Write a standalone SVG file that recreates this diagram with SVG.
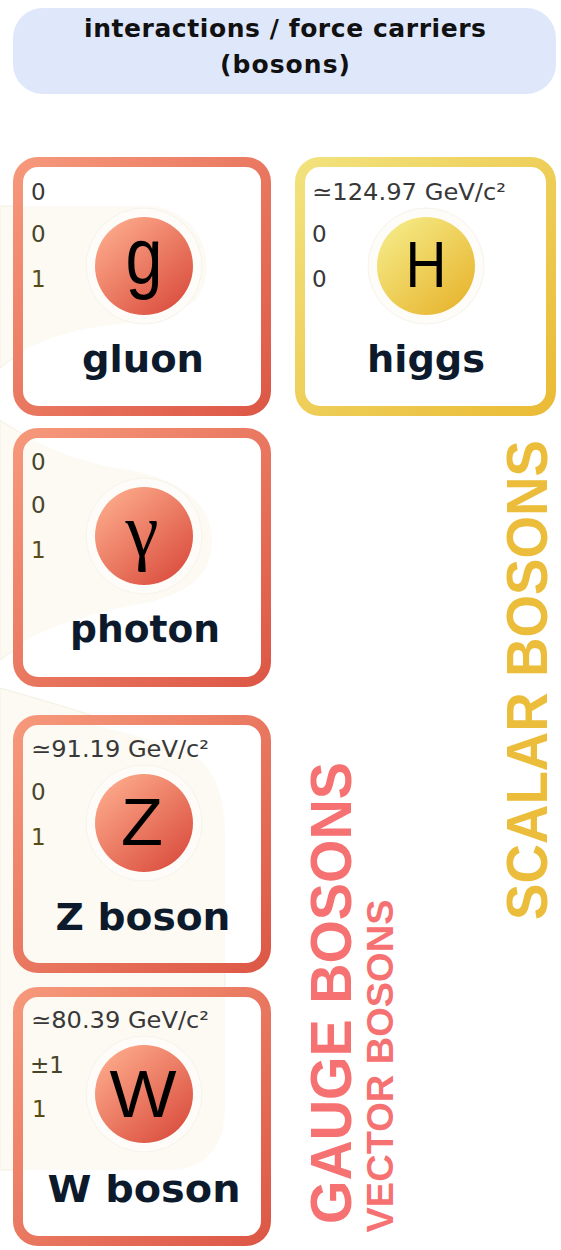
<svg xmlns="http://www.w3.org/2000/svg" width="561" height="1250" viewBox="0 0 561 1250">
<defs>
<linearGradient id="rs" x1="0" y1="0" x2="1" y2="1"><stop offset="0" stop-color="#f6987b"/><stop offset="1" stop-color="#dd5846"/></linearGradient>
<linearGradient id="rb" x1="0.15" y1="0.1" x2="0.85" y2="0.9"><stop offset="0" stop-color="#fba687"/><stop offset="1" stop-color="#dc5242"/></linearGradient>
<linearGradient id="ys" x1="0" y1="0" x2="1" y2="1"><stop offset="0" stop-color="#f2e27c"/><stop offset="1" stop-color="#eabb36"/></linearGradient>
<linearGradient id="yb" x1="0.15" y1="0.1" x2="0.85" y2="0.9"><stop offset="0" stop-color="#f4e882"/><stop offset="1" stop-color="#e8b733"/></linearGradient>
<style>
.card{fill:#fff}
.bdr{fill:none;stroke-width:10}
.red{stroke:url(#rs)}
.yel{stroke:url(#ys)}
.cream{fill:#fcfaf3;stroke:#f3efe3;stroke-width:1}
.halo{fill:#fdfcf8;stroke:#f6f3ea;stroke-width:1}
.num{font-family:"DejaVu Sans",sans-serif;font-size:23px}
.m{fill:#383838}
.q{fill:#48442a}
.s{fill:#5a4b15}
.sym{font-family:"Liberation Sans",Arial,sans-serif;fill:#000}
.name{font-family:"DejaVu Sans",sans-serif;font-weight:bold;font-size:38px;fill:#0c1a2c;text-anchor:middle}
.head{font-family:"DejaVu Sans",sans-serif;font-weight:bold;font-size:25px;fill:#111;text-anchor:middle}
.vl{font-family:"Liberation Sans",Arial,sans-serif;font-weight:bold;text-anchor:middle}
</style>
</defs>
<rect width="561" height="1250" fill="#fff"/>

<g id="header">
<rect x="13" y="8" width="543" height="86" rx="30" fill="#dfe7fb"/>
<text class="head" x="285" y="37" textLength="402" lengthAdjust="spacing">interactions / force carriers</text>
<text class="head" x="285" y="73" textLength="130" lengthAdjust="spacing">(bosons)</text>
</g>

<g id="background">
<path class="cream" d="M0,206 L150,206 A60,60 0 0 1 196,300 C170,322 120,322 80,330 C45,338 20,352 0,368 Z"/>
<path class="cream" d="M0,420 C30,440 70,460 117,468 C160,474 200,490 210,525 C218,565 200,590 150,602 C90,612 40,630 0,660 Z"/>
<path class="cream" d="M0,688 C60,705 140,728 195,757 C215,770 224,795 225,830 L225,1110 C225,1145 205,1170 170,1170 L0,1170 Z"/>
</g>

<g id="gluon">
<rect class="card" x="18" y="162" width="248" height="249" rx="20"/>
<path class="cream" d="M18,206 L150,206 A60,60 0 0 1 196,300 C170,322 120,322 80,330 C50,337 30,346 18,354 Z" style="stroke:none"/>
<circle class="halo" cx="144" cy="266" r="58"/>
<rect class="bdr red" x="18" y="162" width="248" height="249" rx="20"/>
<text class="num m" x="31" y="200">0</text>
<text class="num q" x="31" y="242">0</text>
<text class="num s" x="31" y="287">1</text>
<circle cx="144" cy="266" r="49" fill="url(#rb)"/>
<text class="sym" x="144" y="283" font-size="80" text-anchor="middle" textLength="37" lengthAdjust="spacingAndGlyphs">g</text>
<text class="name" x="143" y="372" textLength="122" lengthAdjust="spacingAndGlyphs">gluon</text>
</g>

<g id="higgs">
<rect class="card" x="300" y="162" width="251" height="249" rx="20"/>
<circle class="halo" cx="426" cy="266" r="58"/>
<rect class="bdr yel" x="300" y="162" width="251" height="249" rx="20"/>
<text class="num m" x="312" y="200" textLength="194" lengthAdjust="spacingAndGlyphs">≃124.97 GeV/c²</text>
<text class="num m" x="312" y="242">0</text>
<text class="num m" x="312" y="287">0</text>
<circle cx="426" cy="266" r="49" fill="url(#yb)"/>
<text class="sym" x="426" y="287" font-size="65" text-anchor="middle" textLength="41" lengthAdjust="spacingAndGlyphs">H</text>
<text class="name" x="426" y="372" textLength="118" lengthAdjust="spacingAndGlyphs">higgs</text>
</g>

<g id="photon">
<rect class="card" x="18" y="433" width="248" height="249" rx="20"/>
<path class="cream" d="M18,432 C45,448 80,462 117,468 C160,474 200,490 210,525 C218,565 200,590 150,602 C90,612 45,628 18,645 Z" style="stroke:none"/>
<circle class="halo" cx="144" cy="536" r="58"/>
<rect class="bdr red" x="18" y="433" width="248" height="249" rx="20"/>
<text class="num q" x="31" y="470">0</text>
<text class="num q" x="31" y="513">0</text>
<text class="num s" x="31" y="558">1</text>
<circle cx="144" cy="536" r="49" fill="url(#rb)"/>
<text x="142" y="556" font-family="'Liberation Serif','DejaVu Serif',serif" font-size="76" text-anchor="middle" textLength="33" lengthAdjust="spacingAndGlyphs" fill="#000">γ</text>
<text class="name" x="145" y="642" textLength="150" lengthAdjust="spacingAndGlyphs">photon</text>
</g>

<g id="zboson">
<rect class="card" x="18" y="720" width="248" height="248" rx="20"/>
<path class="cream" d="M18,709 C80,722 150,735 195,757 C215,770 224,795 225,830 L225,968 L18,968 Z" style="stroke:none"/>
<circle class="halo" cx="144" cy="823" r="58"/>
<rect class="bdr red" x="18" y="720" width="248" height="248" rx="20"/>
<text class="num m" x="31" y="757" textLength="178" lengthAdjust="spacingAndGlyphs">≃91.19 GeV/c²</text>
<text class="num q" x="31" y="800">0</text>
<text class="num s" x="31" y="845">1</text>
<circle cx="144" cy="823" r="49" fill="url(#rb)"/>
<text class="sym" x="142" y="845" font-size="67" text-anchor="middle" textLength="42" lengthAdjust="spacingAndGlyphs">Z</text>
<text class="name" x="143" y="930" textLength="175" lengthAdjust="spacingAndGlyphs">Z boson</text>
</g>

<g id="wboson">
<rect class="card" x="18" y="992" width="248" height="249" rx="20"/>
<path class="cream" d="M18,992 L225,992 L225,1110 C225,1145 205,1170 170,1170 L18,1170 Z" style="stroke:none"/>
<circle class="halo" cx="144" cy="1094" r="58"/>
<rect class="bdr red" x="18" y="992" width="248" height="249" rx="20"/>
<text class="num m" x="31" y="1028" textLength="178" lengthAdjust="spacingAndGlyphs">≃80.39 GeV/c²</text>
<text class="num q" x="30" y="1073">±1</text>
<text class="num s" x="32" y="1117">1</text>
<circle cx="144" cy="1094" r="49" fill="url(#rb)"/>
<text class="sym" x="143" y="1117" font-size="67" text-anchor="middle" textLength="67" lengthAdjust="spacingAndGlyphs">W</text>
<text class="name" x="144" y="1202" textLength="193" lengthAdjust="spacingAndGlyphs">W boson</text>
</g>

<g id="labels">
<text class="vl" transform="translate(351,993) rotate(-90)" font-size="57" fill="#f67171" textLength="462" lengthAdjust="spacingAndGlyphs">GAUGE BOSONS</text>
<text class="vl" transform="translate(393,1066) rotate(-90)" font-size="37" fill="#f67171" textLength="333" lengthAdjust="spacingAndGlyphs">VECTOR BOSONS</text>
<text class="vl" transform="translate(547,680) rotate(-90)" font-size="58" fill="#ebbd3a" textLength="480" lengthAdjust="spacingAndGlyphs">SCALAR BOSONS</text>
</g>
</svg>
